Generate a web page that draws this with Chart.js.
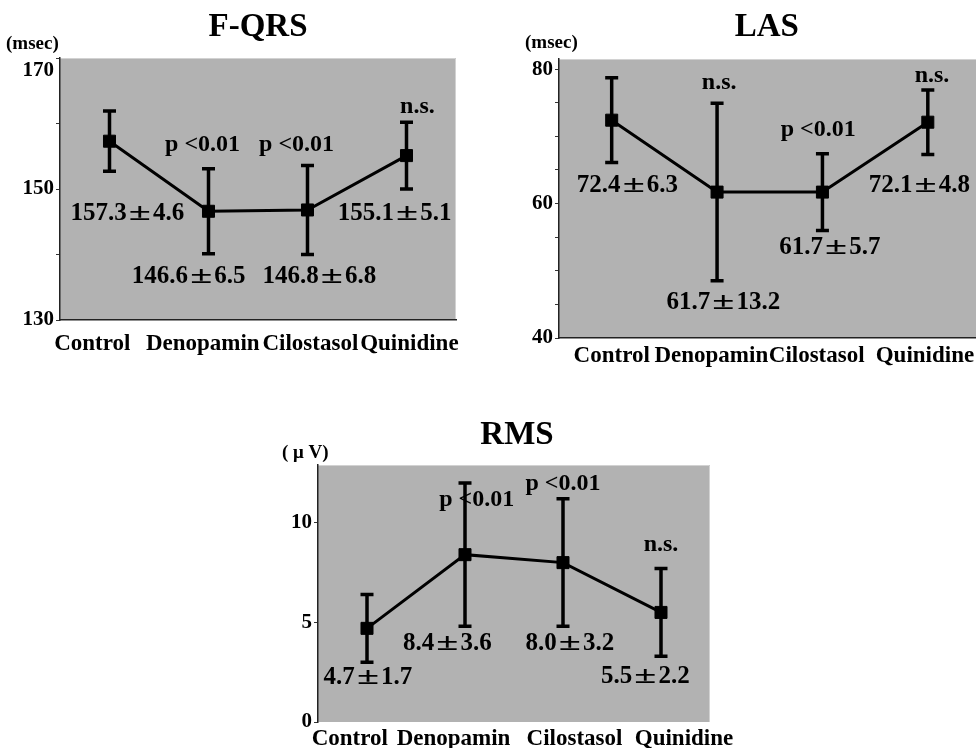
<!DOCTYPE html>
<html><head><meta charset="utf-8">
<script src="https://cdn.jsdelivr.net/npm/chart.js@4"></script>
<style>
html,body{margin:0;padding:0;background:#fff;width:976px;height:748px;overflow:hidden;position:relative}
canvas{position:absolute}
</style></head><body>
<canvas id="c1" width="470" height="365" style="left:0px;top:0px"></canvas>
<canvas id="c2" width="490" height="375" style="left:500px;top:0px"></canvas>
<canvas id="c3" width="500" height="348" style="left:260px;top:400px"></canvas>
<script>
// ---- data ----
const categories = ['Control', 'Denopamin', 'Cilostasol', 'Quinidine'];

const fqrsMean = [157.3, 146.6, 146.8, 155.1];
const fqrsSD = [4.6, 6.5, 6.8, 5.1];
const fqrsSig = ['', 'p <0.01', 'p <0.01', 'n.s.'];
const fqrsTickLabels = [130, 150, 170];

const lasMean = [72.4, 61.7, 61.7, 72.1];
const lasSD = [6.3, 13.2, 5.7, 4.8];
const lasSig = ['', 'n.s.', 'p <0.01', 'n.s.'];
const lasTickLabels = [40, 60, 80];

const rmsMean = [4.7, 8.4, 8.0, 5.5];
const rmsSD = [1.7, 3.6, 3.2, 2.2];
const rmsSig = ['', 'p <0.01', 'p <0.01', 'n.s.'];
const rmsTickLabels = [0, 5, 10];

// ---- layout ----
const FONT = "'Liberation Serif', 'Times New Roman', serif";
// label nudges in spaces (negative = trailing spaces -> shift left, positive = leading -> shift right)
const charts = [
  { canvas: 'c1', title: 'F-QRS', unit: '(msec)', mean: fqrsMean, sd: fqrsSD, sig: fqrsSig, tickLabels: fqrsTickLabels,
    min: 130, max: 170, minor: 10, dropTop: true, xBorder: true,
    area: { top: 58, right: 14, yWidth: 60, xHeight: 45 }, xPad: 10,
    labelNudge: [-6, -2, 1, 1],
    titleY: 27, titleDx: 0, unitX: 6, unitY: 44,
    meanPos: [[0.18, 146.2], [-0.2, 136.7], [0.12, 136.7], [-0.12, 146.2]],
    sigPos: [null, [-0.06, 156.7], [-0.11, 156.7], [0.11, 162.6]] },
  { canvas: 'c2', title: 'LAS', unit: '(msec)', mean: lasMean, sd: lasSD, sig: lasSig, tickLabels: lasTickLabels,
    min: 40, max: 81.5, minor: 5, dropTop: false, xBorder: true,
    area: { top: 59, right: 8, yWidth: 59, xHeight: 37 }, xPad: 4,
    labelNudge: [0, -2, -2, -1],
    titleY: 27, titleDx: -3, unitX: 25, unitY: 43.5,
    meanPos: [[0.15, 62.7], [0.06, 45.2], [0.07, 53.4], [-0.08, 62.7]],
    sigPos: [null, [0.02, 77.9], [-0.04, 70.9], [0.04, 79.0]] },
  { canvas: 'c3', title: 'RMS', unit: '( μ V)', mean: rmsMean, sd: rmsSD, sig: rmsSig, tickLabels: rmsTickLabels,
    min: 0, max: 12.9, minor: 5, dropTop: false, xBorder: false,
    area: { top: 65, right: 50, yWidth: 58, xHeight: 26 }, xPad: 3,
    labelNudge: [-6, -4, 4, 8],
    titleY: 35, titleDx: 3, unitX: 22, unitY: 53,
    meanPos: [[0.01, 2.25], [-0.18, 3.95], [0.07, 3.95], [-0.16, 2.3]],
    sigPos: [null, [0.12, 11.15], [0, 11.95], [0, 8.88]] }
];

function nudgeLabel(text, n) {
  const sp = ' '.repeat(Math.abs(n));
  return n < 0 ? text + sp : sp + text;
}

function drawPM(ctx, text, cx, cy, size) {
  const parts = text.split('±');
  if (parts.length < 2) { ctx.textAlign = 'center'; ctx.fillText(text, cx, cy); return; }
  const wA = ctx.measureText(parts[0]).width;
  const wB = ctx.measureText(parts[1]).width;
  const wPM = ctx.measureText('±').width;
  const slot = size * 1.05;
  const total = wA + slot + wB;
  const x0 = cx - total / 2;
  ctx.textAlign = 'left';
  ctx.fillText(parts[0], x0, cy);
  ctx.save();
  ctx.translate(x0 + wA + slot / 2, cy);
  ctx.scale((slot * 0.84) / wPM, 1);
  ctx.textAlign = 'center';
  ctx.fillText('±', 0, 0);
  ctx.restore();
  ctx.fillText(parts[1], x0 + wA + slot, cy);
}

function makePlugin(cfg) {
  return {
    id: 'decor_' + cfg.canvas,
    beforeDraw(chart) {
      const { ctx, chartArea: a } = chart;
      ctx.save();
      ctx.fillStyle = '#b2b2b2';
      ctx.fillRect(a.left, a.top, a.right - a.left, a.bottom - a.top);
      ctx.strokeStyle = '#d2d2d2';
      ctx.lineWidth = 1;
      ctx.beginPath();
      ctx.moveTo(a.left, a.top + 0.5); ctx.lineTo(a.right - 0.5, a.top + 0.5); ctx.lineTo(a.right - 0.5, a.bottom);
      ctx.stroke();
      ctx.restore();
    },
    beforeDatasetsDraw(chart) {
      const { ctx, scales: { x, y } } = chart;
      ctx.save();
      ctx.strokeStyle = '#000';
      ctx.lineWidth = 3.5;
      cfg.mean.forEach((m, i) => {
        const px = x.getPixelForValue(i);
        const t = y.getPixelForValue(m + cfg.sd[i]);
        const b = y.getPixelForValue(m - cfg.sd[i]);
        ctx.beginPath();
        ctx.moveTo(px, t); ctx.lineTo(px, b);
        ctx.moveTo(px - 6.5, t); ctx.lineTo(px + 6.5, t);
        ctx.moveTo(px - 6.5, b); ctx.lineTo(px + 6.5, b);
        ctx.stroke();
      });
      ctx.restore();
    },
    afterDatasetsDraw(chart) {
      const { ctx, scales: { x, y } } = chart;
      const step = x.getPixelForValue(1) - x.getPixelForValue(0);
      ctx.save();
      ctx.fillStyle = '#000';
      ctx.textBaseline = 'middle';
      ctx.font = 'bold 25px ' + FONT;
      cfg.mean.forEach((m, i) => {
        const [dx, v] = cfg.meanPos[i];
        drawPM(ctx, m.toFixed(1) + '±' + cfg.sd[i].toFixed(1), x.getPixelForValue(i) + dx * step, y.getPixelForValue(v), 25);
      });
      ctx.font = 'bold 24px ' + FONT;
      cfg.sig.forEach((s, i) => {
        if (!s) return;
        const [dx, v] = cfg.sigPos[i];
        ctx.textAlign = 'center';
        ctx.fillText(s, x.getPixelForValue(i) + dx * step, y.getPixelForValue(v));
      });
      ctx.restore();
    },
    afterDraw(chart) {
      const { ctx, chartArea: a } = chart;
      ctx.save();
      ctx.fillStyle = '#000';
      ctx.textBaseline = 'middle';
      ctx.textAlign = 'center';
      ctx.font = 'bold 33px ' + FONT;
      ctx.fillText(cfg.title, (a.left + a.right) / 2 + cfg.titleDx, cfg.titleY);
      ctx.textAlign = 'left';
      ctx.font = 'bold 19px ' + FONT;
      ctx.fillText(cfg.unit, cfg.unitX, cfg.unitY);
      ctx.restore();
    }
  };
}

function makeChart(cfg) {
  return new Chart(document.getElementById(cfg.canvas), {
    type: 'line',
    data: {
      labels: categories,
      datasets: [{
        data: cfg.mean,
        borderColor: '#000', borderWidth: 3,
        pointStyle: 'rect', pointRadius: 8.5, pointHoverRadius: 8.5,
        pointBackgroundColor: '#000', pointBorderColor: '#000', pointBorderWidth: 1,
        tension: 0, fill: false
      }]
    },
    options: {
      responsive: false, animation: false, devicePixelRatio: 1,
      events: [],
      layout: { padding: { top: cfg.area.top, right: cfg.area.right, left: 0, bottom: 0 } },
      plugins: { legend: { display: false }, tooltip: { enabled: false }, title: { display: false } },
      scales: {
        x: {
          type: 'category', offset: true,
          grid: { display: false, drawTicks: false },
          border: { display: cfg.xBorder, color: '#222', width: 1.5 },
          ticks: { autoSkip: false, maxRotation: 0, minRotation: 0, padding: cfg.xPad, color: '#000',
                   font: { family: FONT, size: 23, weight: 'bold' },
                   callback: (v, i) => nudgeLabel(categories[i], cfg.labelNudge[i]) },
          afterFit(s) { s.height = cfg.area.xHeight; s.paddingLeft = 0; s.paddingRight = 0; }
        },
        y: {
          min: cfg.min, max: cfg.max,
          ticks: { stepSize: cfg.minor, padding: 2, color: '#000', autoSkip: false,
                   font: { family: FONT, size: 21, weight: 'bold' },
                   callback: (v) => {
                     if (!cfg.tickLabels.includes(v)) return '';
                     if (cfg.dropTop && v === cfg.max) return ['', String(v)];
                     return String(v);
                   } },
          afterBuildTicks(s) {
            const t = [];
            for (let v = Math.ceil(cfg.min / cfg.minor) * cfg.minor; v <= cfg.max + 1e-9; v += cfg.minor) t.push({ value: v });
            s.ticks = t;
          },
          grid: { display: true, drawOnChartArea: false, drawTicks: true, tickLength: 4, color: '#333', lineWidth: 1 },
          border: { display: true, color: '#222', width: 1.5 },
          afterFit(s) { s.width = cfg.area.yWidth; s.paddingTop = 0; s.paddingBottom = 0; }
        }
      }
    },
    plugins: [makePlugin(cfg)]
  });
}

charts.forEach(makeChart);
</script>
</body></html>
